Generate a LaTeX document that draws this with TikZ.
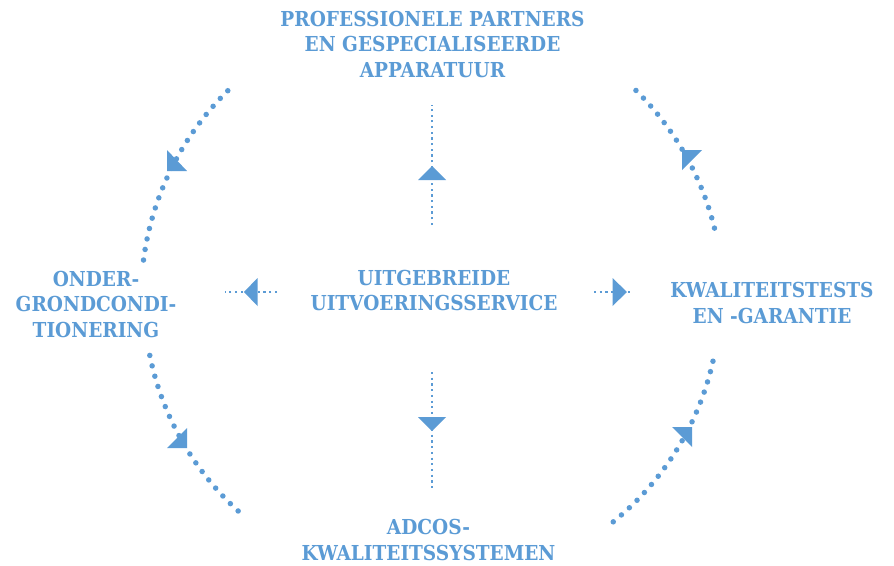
\documentclass[tikz,border=0pt]{standalone}
\usepackage{fontspec}
\setmainfont{DejaVu Serif Condensed}
\definecolor{blu}{RGB}{91,155,213}
\begin{document}
\begin{tikzpicture}[x=1pt,y=1pt,
  lbl/.style={text=blu, align=center, font=\fontsize{20.6}{25.5}\selectfont\bfseries, inner sep=0pt},
  arcdots/.style={draw=blu, line width=5.5pt, line cap=round, dash pattern=on 0pt off 10.7pt},
  axdots/.style={draw=blu, line width=2.4pt, dash pattern=on 2.2pt off 3.5pt},
  tri/.style={fill=blu}]
\useasboundingbox (0,0) rectangle (894,-565);
% labels
\node[lbl] (top) at (432.5,-44) {PROFESSIONELE PARTNERS\\EN GESPECIALISEERDE\\APPARATUUR};
\node[lbl] (mid) at (434,-290.5) {UITGEBREIDE\\UITVOERINGSSERVICE};
\node[lbl] (left) at (96,-304) {ONDER-\\GRONDCONDI-\\TIONERING};
\node[lbl] (right) at (772,-303) {KWALITEITSTESTS\\EN -GARANTIE};
\node[lbl] (bottom) at (428.5,-540) {ADCOS-\\KWALITEITSSYSTEMEN};
% circle centre
\coordinate (O) at (432,-298);
% dotted arcs
\draw[arcdots] ([shift={(172.5:291pt)}]O) arc[start angle=172.5, end angle=134.5, radius=291pt];
\draw[arcdots] ([shift={(45.5:291pt)}]O) arc[start angle=45.5, end angle=13, radius=291pt];
\draw[arcdots] ([shift={(191.5:288pt)}]O) arc[start angle=191.5, end angle=229, radius=288pt];
\draw[arcdots] ([shift={(309:288pt)}]O) arc[start angle=309, end angle=349, radius=288pt];
% arc arrowheads
\fill[tri] (167,-150) -- (167,-171) -- (187,-171) -- cycle;
\fill[tri] (682,-150) -- (702,-150) -- (682,-170) -- cycle;
\fill[tri] (187,-428) -- (187,-448) -- (167,-448) -- cycle;
\fill[tri] (672,-427) -- (692,-427) -- (692,-447) -- cycle;
% axis connectors
\coordinate (upA) at (432,-225); \coordinate (upB) at (432,-105);
\coordinate (dnA) at (432,-372); \coordinate (dnB) at (432,-490);
\coordinate (lfA) at (277,-292); \coordinate (lfB) at (225,-292);
\coordinate (rtA) at (594,-292); \coordinate (rtB) at (633,-292);
\draw[axdots] (upA) -- (upB);
\draw[axdots] (dnA) -- (dnB);
\draw[axdots] (lfA) -- (lfB);
\draw[axdots] (rtA) -- (rtB);
\fill[tri] (432,-166) -- (446,-180) -- (418,-180) -- cycle;
\fill[tri] (432,-431) -- (446,-417) -- (418,-417) -- cycle;
\fill[tri] (244,-292) -- (257.5,-278) -- (257.5,-306) -- cycle;
\fill[tri] (627,-292) -- (612.5,-278) -- (612.5,-306) -- cycle;
\end{tikzpicture}
\end{document}
